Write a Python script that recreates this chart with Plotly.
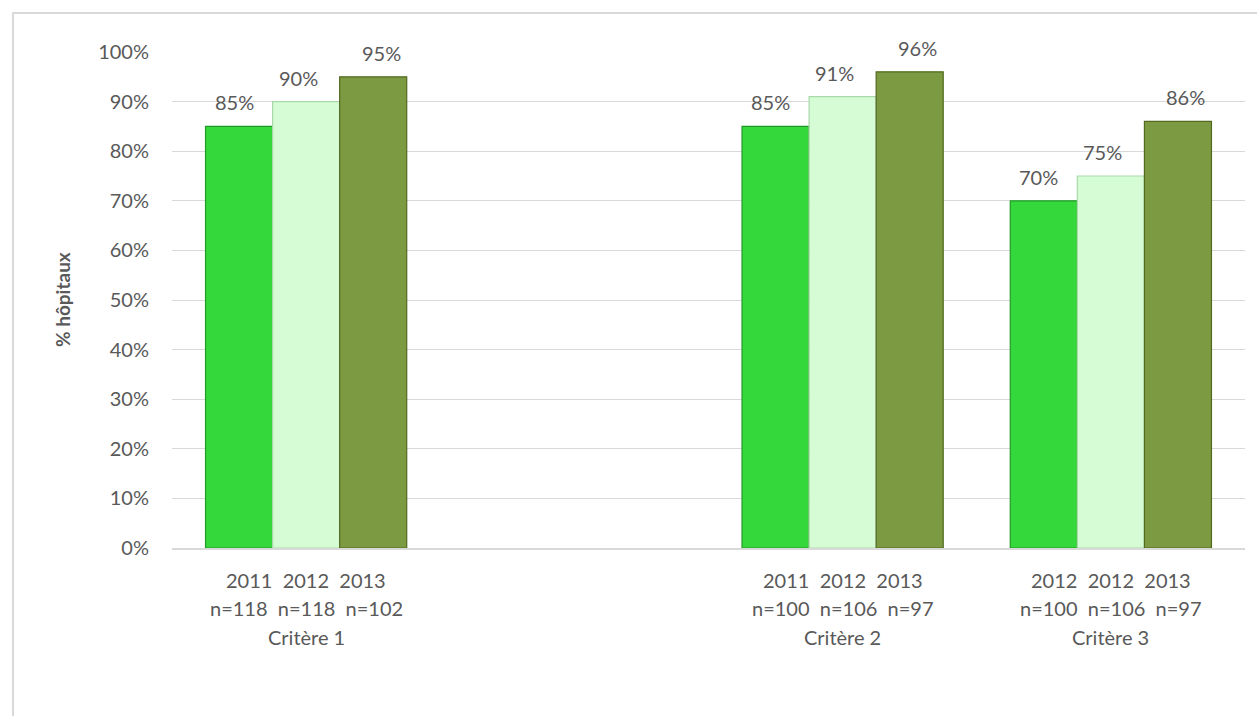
import plotly.graph_objects as go

# Category slots on the x axis (slot 1 is left empty)
criteria = ["Critère 1", "Critère 2", "Critère 3"]
slots = [0, 2, 3]

# Share of hospitals per criterion, one list per series (bar order)
series_a = [85, 85, 70]
series_b = [90, 91, 75]
series_c = [95, 96, 86]

# Axis label rows under each group
years = [["2011", "2012", "2013"], ["2011", "2012", "2013"], ["2012", "2012", "2013"]]
counts = [["n=118", "n=118", "n=102"], ["n=100", "n=106", "n=97"], ["n=100", "n=106", "n=97"]]

colors = ["#35D83B", "#D6FCD6", "#7B9A41"]
edges = ["#1F9A26", "#A9D9A9", "#52691F"]
label_dx = [-5, -8, 8]

W, H = 1257, 716
L, R, T, B = 172, 12, 52, 168
FONT = "Lato"
TXT = "#595959"
FS = 20

plot_w = W - L - R
plot_h = H - T - B


def px_x(px):
    return (px - L) / plot_w


def px_y(py):
    return (T + plot_h - py) / plot_h


fig = go.Figure()
bar_w = 0.25
offsets = [-bar_w, 0.0, bar_w]
annotations = []

for i, vals in enumerate([series_a, series_b, series_c]):
    xs = [s + offsets[i] for s in slots]
    fig.add_trace(go.Bar(
        x=xs, y=vals, width=bar_w,
        marker=dict(color=colors[i], line=dict(color=edges[i], width=1.2)),
        hoverinfo="skip", showlegend=False,
    ))
    for x, v in zip(xs, vals):
        annotations.append(dict(
            x=x, y=v, xref="x", yref="y", text=f"{v}%", showarrow=False,
            xshift=label_dx[i], yshift=24, yanchor="middle",
            font=dict(family=FONT, size=FS, color=TXT),
        ))

sp = "\u00a0\u00a0"
for s, name, yr, nn in zip(slots, criteria, years, counts):
    for text, dy in [(sp.join(yr), -32), (sp.join(nn), -60), (name, -89)]:
        annotations.append(dict(
            x=s, y=0, xref="x", yref="paper", text=text, showarrow=False,
            yshift=dy, yanchor="middle",
            font=dict(family=FONT, size=FS, color=TXT),
        ))

# y-axis title
annotations.append(dict(
    x=px_x(62), y=0.5, xref="paper", yref="paper",
    text="<b>% hôpitaux</b>", textangle=-90, showarrow=False,
    xanchor="center", yanchor="middle",
    font=dict(family=FONT, size=19, color=TXT),
))

# chart frame
shapes = [dict(
    type="rect", xref="paper", yref="paper",
    x0=px_x(13), x1=px_x(W + 20),
    y0=px_y(H + 20), y1=px_y(13),
    line=dict(color="#D9D9D9", width=2), fillcolor="rgba(0,0,0,0)", layer="below",
)]

fig.update_layout(
    width=W, height=H,
    margin=dict(l=L, r=R, t=T, b=B),
    paper_bgcolor="white", plot_bgcolor="white",
    barmode="overlay",
    annotations=annotations,
    shapes=shapes,
    xaxis=dict(range=[-0.5, 3.5], showticklabels=False, showgrid=False,
               zeroline=False, showline=True, linecolor="#D9D9D9", linewidth=1.5,
               fixedrange=True),
    yaxis=dict(range=[0, 100], dtick=10, ticksuffix="%", showgrid=True,
               gridcolor="#D9D9D9", gridwidth=1.3, zeroline=False, showline=False,
               ticklabelstandoff=22,
               tickfont=dict(family=FONT, size=FS, color=TXT), fixedrange=True),
    font=dict(family=FONT, color=TXT),
)

fig.write_html("out.html")
